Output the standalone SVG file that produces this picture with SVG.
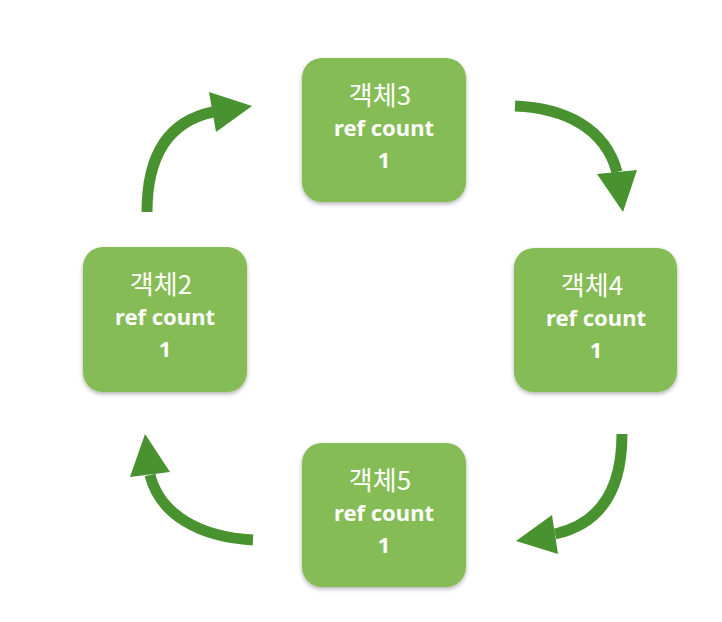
<svg xmlns="http://www.w3.org/2000/svg" width="722" height="622" viewBox="0 0 722 622">
<defs>
<filter id="sh" x="-10%" y="-10%" width="120%" height="125%">
<feDropShadow dx="0" dy="2" stdDeviation="2" flood-color="#000" flood-opacity="0.3"/>
</filter>
<style>
.box{fill:#86BC56;filter:url(#sh)}
.t{fill:#fff;text-anchor:middle;font-family:"Noto Sans CJK KR","Noto Sans",sans-serif;font-size:26px;font-weight:400}
.r{fill:#fff;text-anchor:middle;font-family:"Noto Sans","Liberation Sans",sans-serif;font-size:22px;font-weight:700}
.s{fill:none;stroke:#48922F;stroke-width:11}
.h{fill:#48922F}
</style>
</defs>
<rect width="722" height="622" fill="#fff"/>
<g id="connectors">
<path class="s" d="M147,212 C147,160 165,122 213,112"/>
<polygon class="h" points="252,106 209,92 216,132"/>
<path class="s" d="M515,106 C565,108 605,128 617,172"/>
<polygon class="h" points="623,212 597,174 637,170"/>
<path class="s" d="M622,434 C622,490 600,524 555,534"/>
<polygon class="h" points="516,541 552,515 558,554"/>
<path class="s" d="M253,540 C200,537 160,515 150,475"/>
<polygon class="h" points="145,434 130,477 170,472"/>
</g>
<g id="node3">
<rect class="box" x="302" y="58" width="164" height="144" rx="20"/>
<text class="t" x="380" y="105">객체3</text>
<text class="r" x="384" y="136">ref count</text>
<text class="r" x="384" y="168">1</text>
</g>
<g id="node2">
<rect class="box" x="83" y="247" width="164" height="145" rx="20"/>
<text class="t" x="161" y="294">객체2</text>
<text class="r" x="165" y="325">ref count</text>
<text class="r" x="165" y="357">1</text>
</g>
<g id="node4">
<rect class="box" x="514" y="248" width="163" height="144" rx="20"/>
<text class="t" x="592" y="295">객체4</text>
<text class="r" x="596" y="326">ref count</text>
<text class="r" x="596" y="358">1</text>
</g>
<g id="node5">
<rect class="box" x="302" y="443" width="164" height="144" rx="20"/>
<text class="t" x="380" y="490">객체5</text>
<text class="r" x="384" y="521">ref count</text>
<text class="r" x="384" y="553">1</text>
</g>
</svg>
